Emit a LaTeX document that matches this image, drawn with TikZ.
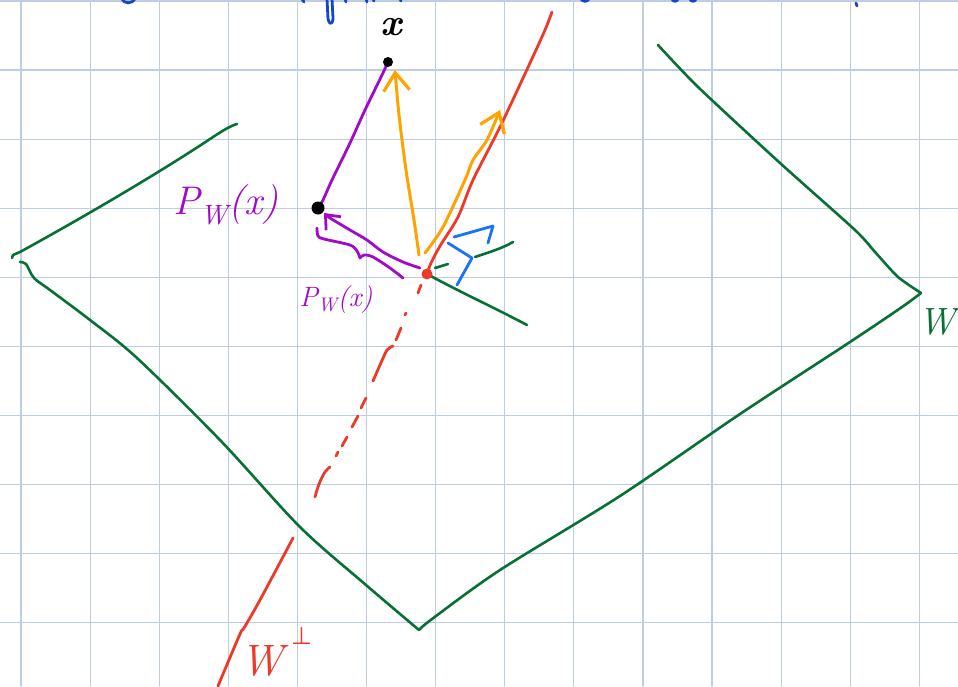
\documentclass[tikz,border=0pt]{standalone}
\usepackage{fontspec}
\newfontfamily\symf{DejaVu Sans}
\usetikzlibrary{arrows.meta}
\definecolor{gridc}{RGB}{190,204,228}
\definecolor{pgreen}{RGB}{8,112,52}
\definecolor{pred}{RGB}{236,58,40}
\definecolor{porange}{RGB}{255,163,0}
\definecolor{ppurple}{RGB}{160,10,200}
\definecolor{pblue}{RGB}{25,115,250}
\definecolor{dblue}{RGB}{20,70,200}
\begin{document}
\begin{tikzpicture}[x=1pt,y=-1pt,line cap=round,line join=round,
  gridline/.style={draw=gridc,line width=1.2pt},
  ink/.style={line width=2.8pt},
  greenink/.style={ink,draw=pgreen,line width=2.6pt},
  redink/.style={ink,draw=pred},
  orangearrow/.style={ink,draw=porange,line width=3pt,-{Straight Barb[length=18pt,width=26pt,line width=3.2pt]}},
  purplearrow/.style={ink,draw=ppurple,-{Straight Barb[length=12pt,width=20pt,line width=2.8pt]}},
  purpleink/.style={ink,draw=ppurple},
  blueink/.style={ink,draw=pblue},
  topink/.style={ink,draw=dblue},
  label/.style={inner sep=0pt,font=\itshape}]
\useasboundingbox (0,0) rectangle (958,686);
\fill[white] (0,0) rectangle (958,686);
% grid
\foreach \i in {0,...,13} \draw[gridline] ({21+69.1*\i},0) -- ({21+69.1*\i},686);
\foreach \j in {0,...,9} \draw[gridline] (0,{0.9+69.1*\j}) -- (958,{0.9+69.1*\j});
% cropped blue writing at top edge
\draw[topink] (122,-1) .. controls (124,4) and (132,4) .. (135,-1);
\draw[topink] (302,-1) -- (304,2);
\draw[topink] (327,-1) -- (328,19) .. controls (329,25) and (333,25) .. (333,18) -- (332,-1);
\draw[topink] (345,-1) -- (346,2);
\draw[topink] (366,-1) -- (367,2);
\draw[topink] (373,-1) -- (374,1);
\draw[topink] (400,-1) -- (401,1);
\draw[topink] (581,-1) .. controls (583,2) and (587,2) .. (589,-1);
\draw[topink] (672,-1) .. controls (673,2) and (677,2) .. (678,-1);
\draw[topink] (690,-1) .. controls (691,2) and (695,2) .. (696,-1);
\draw[topink] (856,3) -- (857,6);
% key points
\coordinate (X) at (388,62);
\coordinate (PW) at (318,208);
\coordinate (O) at (427,274);
% plane W (green)
\draw[greenink] (12,258) -- (13,255) -- (20,252) .. controls (60,230) and (140,185) .. (207,141) .. controls (222,131) and (230,126) .. (237,124);
\draw[greenink] plot[smooth,tension=0.5] coordinates {(20,262) (26,264) (34,278) (50,290) (90,320) (137,358) (220,440) (300,527) (366,585) (419,630)};
\draw[greenink] plot[smooth,tension=0.5] coordinates {(419,630) (432,619) (500,570) (620,496) (740,414) (850,342) (902,307) (921,293)};
\draw[greenink] plot[smooth,tension=0.4] coordinates {(921,293) (898,277) (875,252) (855,230) (780,163) (698,87) (658,45)};
% plane near the foot point
\draw[greenink] (435,268) -- (448,264);
\draw[greenink] (475,257) .. controls (490,252) and (503,248) .. (513,242);
\draw[greenink] (O) .. controls (460,292) and (495,308) .. (527,325);
% W-perp line (red)
\draw[redink] plot[smooth,tension=0.5] coordinates {(O) (431,263) (440,246) (458,217) (473,180) (500,127) (530,63) (545,30) (552,12)};
\draw[redink] (418,293) -- (421,285);
\draw[redink] (405,315) -- (406,313);
\draw[redink] (396,340) -- (401,328);
\draw[redink] plot[smooth,tension=0.5] coordinates {(393,346) (387,350) (380,365) (373,381)};
\draw[redink] (366,398) -- (361,408);
\draw[redink] (358,416) -- (352,427);
\draw[redink] (347,437) -- (342,446);
\draw[redink] (338,452) -- (336,456);
\draw[redink] plot[smooth,tension=0.5] coordinates {(330,467) (325,472) (319,484) (315,497)};
\draw[redink] plot[smooth,tension=0.5] coordinates {(293,538) (260,600) (244,628) (240,634) (218,686)};
% foot point
\fill[pred] (O) circle (5.5);
% orange vectors
\draw[orangearrow] plot[smooth,tension=0.5] coordinates {(419,255) (414,220) (406,170) (399,115) (395,70)};
\draw[orangearrow] plot[smooth,tension=0.5] coordinates {(425,253) (443,227) (465,180) (473,160) (487,140) (500,110)};
% purple: x to its projection
\draw[purpleink] plot[smooth,tension=0.5] coordinates {(X) (382,75) (365,110) (350,143) (332,180) (323,200) (PW)};
\draw[purplearrow] plot[smooth,tension=0.5] coordinates {(420,268) (403,262) (383,252) (367,240) (350,230) (330,218) (324,213)};
\draw[purpleink] plot[smooth,tension=0.5] coordinates {(317,228) (318,236) (324,239) (350,245) (357,251) (360,258)};
\draw[purpleink] plot[smooth,tension=0.5] coordinates {(360,258) (364,255) (373,257) (390,268) (403,278)};
% blue right-angle mark
\draw[blueink] (448,243) -- (472,258) -- (457,285);
\draw[blueink] (454,237) -- (493,226) -- (488,243);
% points
\fill[black] (X) circle (5);
\fill[black] (PW) circle (6.5);
% labels
\node[label] (xlab) at (391,27) {\fontsize{38}{38}\selectfont\bfseries x};
\node[label,text=ppurple] (pwlab) at (226,205) {\fontsize{40}{40}\selectfont P\textsubscript{W}(x)};
\node[label,text=ppurple] (pwlab2) at (336,300) {\fontsize{28}{28}\selectfont P\textsubscript{W}(x)};
\node[label,text=pgreen,anchor=east] (wlab) at (956,322) {\fontsize{38}{38}\selectfont W};
\node[label,text=pred,anchor=west] (wperp) at (240,652) {\fontsize{44}{44}\selectfont W\hspace{8pt}\raisebox{1.6ex}{\upshape\fontsize{24}{24}\selectfont\symf ⊥}};
\end{tikzpicture}
\end{document}
